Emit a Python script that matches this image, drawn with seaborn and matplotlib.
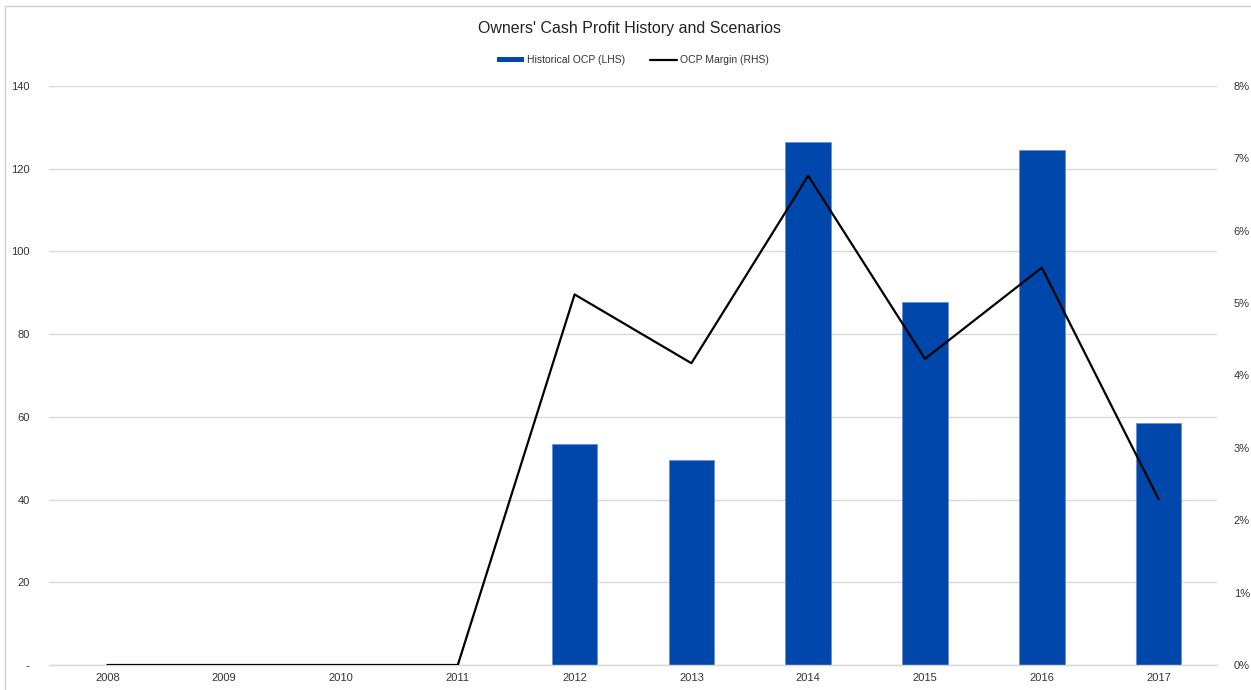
import numpy as np
import pandas as pd
import matplotlib
matplotlib.use("Agg")
import matplotlib.pyplot as plt
from matplotlib.patches import Rectangle
from matplotlib.lines import Line2D
from matplotlib.ticker import FuncFormatter, FixedLocator
import seaborn as sns

years = ["2008", "2009", "2010", "2011", "2012", "2013", "2014", "2015", "2016", "2017"]
ocp = [0, 0, 0, 0, 53.5, 49.5, 126.5, 87.7, 124.5, 58.5]
margin = [0.0, 0.0, 0.0, 0.0, 5.12, 4.17, 6.76, 4.23, 5.49, 2.29]
left_ticks = [0, 20, 40, 60, 80, 100, 120, 140]
right_ticks = [0, 1, 2, 3, 4, 5, 6, 7, 8]

sns.set_theme(style="white")
plt.rcParams["font.family"] = ["Liberation Sans Narrow", "Liberation Sans", "DejaVu Sans"]

bar_color = "#0047AB"
grid_color = "#D9D9D9"
text_color = "#333333"

df = pd.DataFrame({"year": years, "ocp": ocp, "margin": margin})

fig = plt.figure(figsize=(12.51, 6.90), dpi=100)
ax = fig.add_axes([49 / 1251, 25 / 690, (1217 - 49) / 1251, (665 - 86) / 690])

sns.barplot(data=df, x="year", y="ocp", color=bar_color, width=0.39,
            saturation=1, ax=ax, zorder=2)
for p in ax.patches:
    p.set_edgecolor("#6F8FD0")
    p.set_linewidth(0.6)

ax.set_xlim(-0.5, len(years) - 0.5)
ax.set_ylim(0, 140)
ax.set_yticks(left_ticks)
ax.yaxis.set_major_formatter(FuncFormatter(lambda v, _: "-" if v == 0 else f"{v:.0f}"))
ax.yaxis.grid(True, color=grid_color, linewidth=1, zorder=0)
ax.set_axisbelow(True)
ax.set_xlabel("")
ax.set_ylabel("")
for s in ["top", "right", "left"]:
    ax.spines[s].set_visible(False)
ax.spines["bottom"].set_color(grid_color)
ax.spines["bottom"].set_linewidth(1)
ax.tick_params(axis="y", length=0, pad=14, labelsize=8, labelcolor=text_color)
ax.tick_params(axis="x", which="major", length=0, pad=6, labelsize=8, labelcolor=text_color)
ax.xaxis.set_minor_locator(FixedLocator(np.arange(-0.5, len(years), 1.0)))
ax.tick_params(axis="x", which="minor", length=4, width=1, color=grid_color, direction="out")

ax2 = ax.twinx()
sns.lineplot(x=np.arange(len(years)), y=margin, color="black", linewidth=1.6, ax=ax2)
ax2.set_ylim(0, 8)
ax2.set_yticks(right_ticks)
ax2.yaxis.set_major_formatter(FuncFormatter(lambda v, _: f"{v:.0f}%"))
for s in ["top", "right", "left", "bottom"]:
    ax2.spines[s].set_visible(False)
ax2.tick_params(axis="y", length=0, pad=12, labelsize=8, labelcolor=text_color)
ax2.set_xlim(-0.5, len(years) - 0.5)

fig.text(0.503, 1 - 29 / 690, "Owners' Cash Profit History and Scenarios",
         ha="center", va="center", fontsize=11.5, color="#222222")

handles = [Rectangle((0, 0), 1, 1, facecolor=bar_color, edgecolor="none"),
           Line2D([0], [0], color="black", linewidth=1.6)]
fig.legend(handles, ["Historical OCP (LHS)", "OCP Margin (RHS)"],
           loc="center", bbox_to_anchor=(0.506, 1 - 60 / 690), ncol=2,
           frameon=False, fontsize=7.5, handlelength=2.6, handleheight=0.35,
           columnspacing=2.4, handletextpad=0.3, labelcolor=text_color)

fig.patches.append(Rectangle((5 / 1251, -0.01), 1.0, 1 - 6 / 690 + 0.01,
                             transform=fig.transFigure, fill=False,
                             edgecolor="#D0D0D0", linewidth=1))

fig.savefig("out.png", dpi=100)
